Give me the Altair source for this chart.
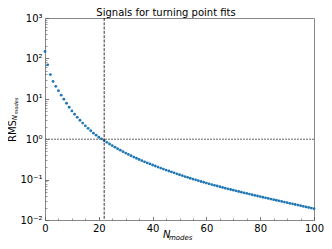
import altair as alt
import pandas as pd

# ---- data ----
n_modes = list(range(101))
rms = [148, 69.2, 39.8, 26.9, 20.4, 15.8, 12.3, 9.77, 7.76, 6.17,
       5.01, 4.17, 3.47, 2.95, 2.51, 2.14, 1.86, 1.62, 1.41, 1.26,
       1.12, 1.02, 0.923, 0.838, 0.762, 0.695, 0.635, 0.582, 0.535, 0.492,
       0.454, 0.420, 0.389, 0.361, 0.337, 0.314, 0.294, 0.275, 0.259, 0.244,
       0.230, 0.217, 0.204, 0.193, 0.182, 0.172, 0.163, 0.155, 0.147, 0.139,
       0.132, 0.126, 0.119, 0.114, 0.108, 0.103, 0.0986, 0.0942, 0.0899, 0.0859,
       0.0820, 0.0785, 0.0753, 0.0723, 0.0693, 0.0665, 0.0640, 0.0615, 0.0592, 0.0569,
       0.0547, 0.0526, 0.0507, 0.0489, 0.0471, 0.0454, 0.0438, 0.0422, 0.0406, 0.0393,
       0.0379, 0.0366, 0.0354, 0.0342, 0.0330, 0.0319, 0.0308, 0.0298, 0.0288, 0.0278,
       0.0269, 0.0259, 0.0251, 0.0242, 0.0234, 0.0226, 0.0218, 0.0211, 0.0204, 0.0197,
       0.0190]
threshold_n = 22
threshold_rms = 1.0
title_text = "Signals for turning point fits"

x_domain = [0, 100]
y_domain = [0.01, 1000]
x_major = [0, 20, 40, 60, 80, 100]
x_minor = [5, 10, 15, 25, 30, 35, 45, 50, 55, 65, 70, 75, 85, 90, 95]
y_major = [0.01, 0.1, 1, 10, 100, 1000]
y_major_labels = ["10⁻²", "10⁻¹", "10⁰", "10¹", "10²", "10³"]
y_minor = [k * 10.0 ** e for e in range(-2, 3) for k in range(2, 10)]

FONT = "DejaVu Sans"
W, H = 269, 202

df = pd.DataFrame({"n": n_modes, "rms": rms})

xscale = alt.Scale(domain=x_domain, nice=False, zero=False)
yscale = alt.Scale(type="log", domain=y_domain, nice=False)

vals_js = "[" + ",".join(str(v) for v in y_major) + "]"
labs_js = "[" + ",".join("'" + s + "'" for s in y_major_labels) + "]"
y_label_expr = (f"indexof({vals_js}, datum.value) >= 0 ? "
                f"{labs_js}[indexof({vals_js}, datum.value)] : ''")

common = dict(domain=False, grid=False, tickColor="#555", title="")

x_axis_major = alt.Axis(values=x_major, orient="bottom", offset=-3.5, tickSize=3.5,
                        tickWidth=0.8, labelPadding=3, labelFont=FONT, labelFontSize=10,
                        labelColor="black", labelFlush=False, labelOverlap=False, **common)
x_axis_minor = alt.Axis(values=x_minor, orient="bottom", offset=-2, tickSize=2,
                        tickWidth=0.6, labels=False, **common)
y_axis_major = alt.Axis(values=y_major, orient="left", offset=-3.5, tickSize=3.5,
                        tickWidth=0.8, labelPadding=3, labelFont=FONT, labelFontSize=10,
                        labelColor="black", labelFlush=False, labelOverlap=False,
                        labelExpr=y_label_expr, **common)
y_axis_minor = alt.Axis(values=y_minor, orient="left", offset=-2, tickSize=2,
                        tickWidth=0.6, labels=False, **common)

points = alt.Chart(df).mark_circle(size=8, color="#1f77b4", opacity=1).encode(
    x=alt.X("n:Q", scale=xscale, axis=x_axis_major),
    y=alt.Y("rms:Q", scale=yscale, axis=y_axis_major),
)

vline = alt.Chart(pd.DataFrame({"n": [threshold_n]})).mark_rule(
    color="black", strokeDash=[3, 1.3], strokeWidth=0.8
).encode(x=alt.X("n:Q", scale=xscale, axis=x_axis_minor))

hline = alt.Chart(pd.DataFrame({"rms": [threshold_rms]})).mark_rule(
    color="#666", strokeDash=[2, 1], strokeWidth=1
).encode(y=alt.Y("rms:Q", scale=yscale, axis=y_axis_minor))


def label(text, x, y, size, angle=0, italic=False, align="center", baseline="alphabetic"):
    kw = dict(font=FONT, fontSize=size, color="black", align=align, baseline=baseline)
    if angle:
        kw["angle"] = angle
    if italic:
        kw["fontStyle"] = "italic"
    return alt.Chart(pd.DataFrame({"t": [text]})).mark_text(**kw).encode(
        text="t:N", x=alt.value(x), y=alt.value(y))


title_t = label(title_text, 121, -2.5, 10)
rms_t = label("RMS", -29.5, 113, 10, angle=270)
ysub_n = label("N", -28, 99.5, 7, angle=270, italic=True)
ysub_m = label("modes", -27, 88, 5, angle=270, italic=True)
xn_t = label("N", 118, 220, 10, italic=True, align="left")
xm_t = label("modes", 124, 221.5, 7, italic=True, align="left")

chart = alt.layer(points, vline, hline, title_t, rms_t, ysub_n, ysub_m, xn_t, xm_t).resolve_axis(
    x="independent", y="independent"
).properties(
    width=W, height=H,
    padding={"left": 37, "top": 10, "right": 10, "bottom": 21},
    autosize=alt.AutoSizeParams(type="none"),
    background="white",
).configure_view(stroke="#888", strokeWidth=1)

chart.save("out.html", embed_options={"renderer": "svg", "actions": False})
